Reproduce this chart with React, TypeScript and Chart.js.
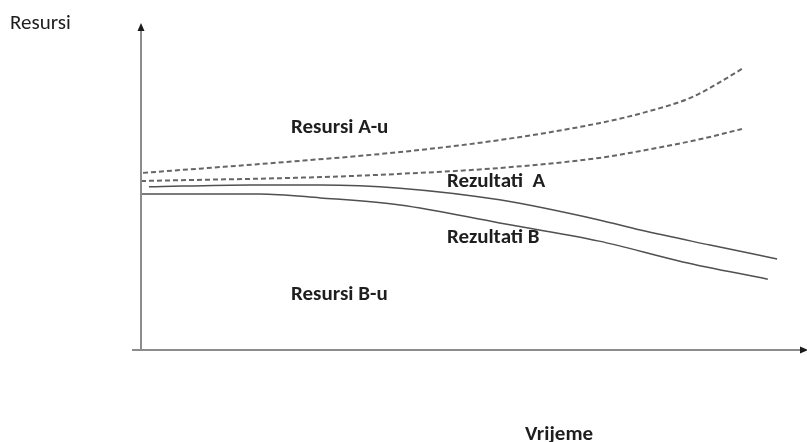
import React, { useEffect, useRef } from "react";
import { Chart, registerables } from "chart.js";

Chart.register(...registerables);

// Time axis (0..100) and resource level (0..100)
const resourceAHighX = [0.3, 24, 39, 54, 69, 76, 83, 87, 90.5];
const resourceAHighY = [54.5, 58.2, 60.9, 64.6, 69.8, 73.2, 77.8, 82.2, 86.5];

const resourceALowX = [0, 27, 39, 54, 69, 76.7, 84.3, 90.5];
const resourceALowY = [52.0, 53.2, 54.2, 56.0, 59.1, 61.8, 64.9, 68.0];

const resultAX = [1.2, 16.4, 27, 39, 54, 69, 75.2, 85.7, 95.8];
const resultAY = [50.2, 50.8, 50.8, 49.8, 46.2, 40.0, 36.9, 32.3, 28.0];

const resultBX = [0, 17.9, 27, 39, 54, 69, 81.6, 94.4];
const resultBY = [48.0, 48.0, 46.8, 44.6, 39.1, 33.5, 27.1, 21.8];

const yAxisTitle = "Resursi";
const xAxisTitle = "Vrijeme";
const regionLabels = ["Resursi A-u", "Rezultati  A", "Rezultati B", "Resursi B-u"];

const zip = (xs: number[], ys: number[]) => xs.map((x, i) => ({ x, y: ys[i] }));

export default function App() {
  const ref = useRef<HTMLCanvasElement | null>(null);

  useEffect(() => {
    if (!ref.current) return;
    const font = "Carlito, Lato, 'Open Sans', sans-serif";

    const overlay = {
      id: "overlay",
      afterDraw(chart: any) {
        const ctx = chart.ctx as CanvasRenderingContext2D;
        const xs = chart.scales.x;
        const ys = chart.scales.y;
        const left = xs.getPixelForValue(0);
        const right = xs.getPixelForValue(100);
        const top = ys.getPixelForValue(100);
        const bottom = ys.getPixelForValue(0);
        ctx.save();
        // axes
        ctx.strokeStyle = "#8c8c8c";
        ctx.lineWidth = 2;
        ctx.beginPath();
        ctx.moveTo(left, bottom);
        ctx.lineTo(left, top + 6);
        ctx.moveTo(left - 9, bottom);
        ctx.lineTo(right - 4, bottom);
        ctx.stroke();
        ctx.fillStyle = "#1a1a1a";
        ctx.beginPath();
        ctx.moveTo(left, top - 2);
        ctx.lineTo(left - 3.5, top + 6);
        ctx.lineTo(left + 3.5, top + 6);
        ctx.closePath();
        ctx.fill();
        ctx.beginPath();
        ctx.moveTo(right + 3, bottom);
        ctx.lineTo(right - 5, bottom - 3.5);
        ctx.lineTo(right - 5, bottom + 3.5);
        ctx.closePath();
        ctx.fill();

        // texts
        ctx.fillStyle = "#1e1e1e";
        ctx.textBaseline = "alphabetic";
        ctx.textAlign = "left";
        ctx.font = `21px ${font}`;
        ctx.fillText(yAxisTitle, 10, 29);
        ctx.font = `bold 21px ${font}`;
        ctx.fillText(regionLabels[0], 291, 133);
        ctx.fillText(regionLabels[1], 447, 187);
        ctx.fillText(regionLabels[2], 447, 243);
        ctx.fillText(regionLabels[3], 291, 300);
        ctx.fillText(xAxisTitle, 525, 440);
        ctx.restore();
      },
    };

    const dashed = { borderColor: "#666", borderWidth: 2, borderDash: [5, 3] };
    const solid = { borderColor: "#505050", borderWidth: 1.5 };

    const chart = new Chart(ref.current, {
      type: "line",
      data: {
        datasets: [
          { label: "A high", data: zip(resourceAHighX, resourceAHighY), ...dashed },
          { label: "A low", data: zip(resourceALowX, resourceALowY), ...dashed },
          { label: "Rezultati A", data: zip(resultAX, resultAY), ...solid },
          { label: "Rezultati B", data: zip(resultBX, resultBY), ...solid },
        ],
      },
      options: {
        animation: false,
        responsive: false,
        maintainAspectRatio: false,
        layout: { padding: { left: 141, top: 25, right: 2, bottom: 92 } },
        elements: {
          point: { radius: 0 },
          line: { tension: 0.4, cubicInterpolationMode: "monotone", fill: false },
        },
        plugins: { legend: { display: false }, tooltip: { enabled: false } },
        scales: {
          x: { type: "linear", min: 0, max: 100, display: false },
          y: { type: "linear", min: 0, max: 100, display: false },
        },
      },
      plugins: [overlay],
    });
    return () => chart.destroy();
  }, []);

  return (
    <div style={{ position: "fixed", left: 0, top: 0, width: 807, height: 442, background: "#fff" }}>
      <canvas ref={ref} width={807} height={442} style={{ width: 807, height: 442 }} />
    </div>
  );
}
